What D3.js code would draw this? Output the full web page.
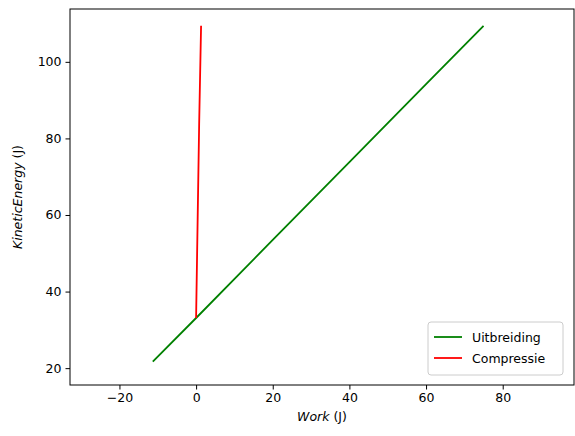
<!DOCTYPE html>
<html><head><meta charset="utf-8">
<script src="https://cdn.jsdelivr.net/npm/d3@7"></script>
<style>body{margin:0;background:#fff}text{font-family:"DejaVu Sans",sans-serif}</style>
</head><body><svg id="c" width="575" height="436"></svg>
<script>
const expWork=[-11.3,0,20,40,60,75];
const expKE=[21.7,33.1,53.5,73.8,94.2,109.4];
const compWork=[0,0.4,0.8,1.3];
const compKE=[33.1,58.5,83.9,109.4];
const xTicks=[-20,0,20,40,60,80];
const yTicks=[20,40,60,80,100];
const svg=d3.select("#c");
const L=70,R=574,T=9,B=385;
const FS=12.5;
const x=d3.scaleLinear().domain([-32.9,98.6]).range([L,R]);
const y=d3.scaleLinear().domain([15.6,113.8]).range([B,T]);
svg.append("g").attr("transform",`translate(0,${B})`).call(d3.axisBottom(x).tickValues(xTicks).tickSize(4.5).tickPadding(4).tickFormat(d=>d<0?"−"+(-d):d))
 .call(g=>g.select(".domain").remove()).selectAll("text").attr("font-size",FS);
svg.append("g").attr("transform",`translate(${L},0)`).call(d3.axisLeft(y).tickValues(yTicks).tickSize(4.5).tickPadding(4))
 .call(g=>g.select(".domain").remove()).selectAll("text").attr("font-size",FS);
svg.selectAll(".tick line").attr("stroke","#000");
svg.selectAll(".tick text").attr("fill","#000");
const line=d3.line().x(d=>x(d[0])).y(d=>y(d[1]));
svg.append("path").attr("d",line(expWork.map((w,i)=>[w,expKE[i]]))).attr("fill","none").attr("stroke","green").attr("stroke-width",1.8);
svg.append("path").attr("d",line(compWork.map((w,i)=>[w,compKE[i]]))).attr("fill","none").attr("stroke","red").attr("stroke-width",1.8);
svg.append("rect").attr("x",L).attr("y",T).attr("width",R-L).attr("height",B-T).attr("fill","none").attr("stroke","#000").attr("stroke-width",1);
const xl=svg.append("text").attr("x",(L+R)/2).attr("y",421).attr("text-anchor","middle").attr("font-size",FS);
xl.append("tspan").attr("font-style","italic").text("Work");xl.append("tspan").text(" (J)");
const yl=svg.append("text").attr("transform",`translate(22,${(T+B)/2}) rotate(-90)`).attr("text-anchor","middle").attr("font-size",FS);
yl.append("tspan").attr("font-style","italic").text("KineticEnergy");yl.append("tspan").text(" (J)");
const lg=svg.append("g");
lg.append("rect").attr("x",428).attr("y",322).attr("width",135).attr("height",53).attr("rx",3).attr("fill","#fff").attr("stroke","#ccc");
[["Uitbreiding","green"],["Compressie","red"]].forEach((s,i)=>{
 const yy=337+i*21;
 lg.append("line").attr("x1",434).attr("x2",462).attr("y1",yy).attr("y2",yy).attr("stroke",s[1]).attr("stroke-width",1.8);
 lg.append("text").attr("x",472).attr("y",yy+4.5).attr("font-size",FS).text(s[0]);
});
</script></body></html>
